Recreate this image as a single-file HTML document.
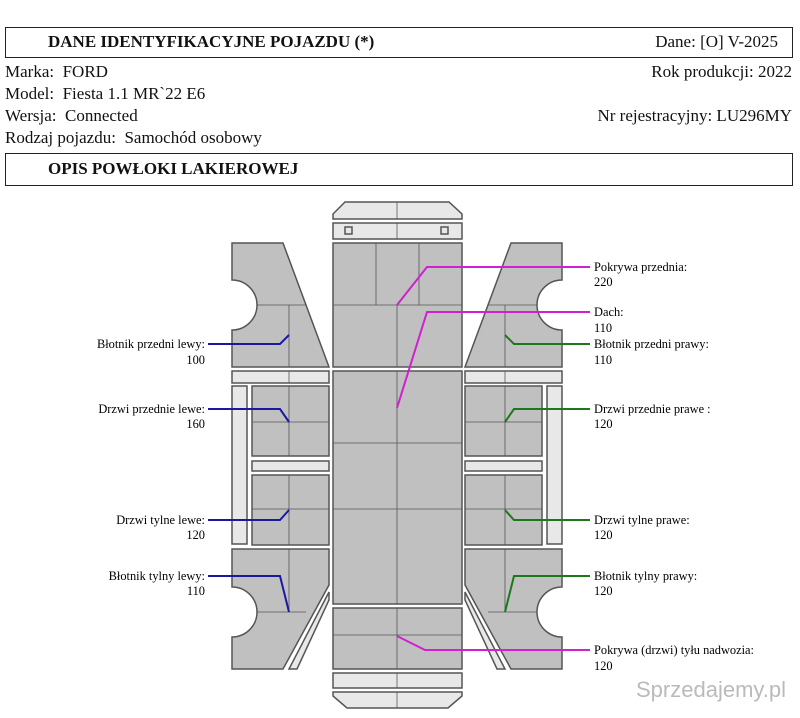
<!DOCTYPE html>
<html><head><meta charset="utf-8"><style>
body{margin:0;background:#fff;width:800px;height:718px;overflow:hidden;position:relative;font-family:"Liberation Serif",serif;color:#111}
.box{position:absolute;left:5px;width:788px;border:1.5px solid #222;box-sizing:border-box}
.t{position:absolute;font-size:17px;white-space:nowrap}
</style></head><body>
<div class="box" style="top:27px;height:31px"></div>
<div class="t" style="left:48px;top:32px;font-weight:bold">DANE IDENTYFIKACYJNE POJAZDU (*)</div>
<div class="t" style="right:22px;top:32px">Dane: [O] V-2025</div>
<div class="t" style="left:5px;top:62px">Marka:&nbsp; FORD</div>
<div class="t" style="right:8px;top:62px">Rok produkcji: 2022</div>
<div class="t" style="left:5px;top:84px">Model:&nbsp; Fiesta 1.1 MR`22 E6</div>
<div class="t" style="left:5px;top:106px">Wersja:&nbsp; Connected</div>
<div class="t" style="right:8px;top:106px">Nr rejestracyjny: LU296MY</div>
<div class="t" style="left:5px;top:128px">Rodzaj pojazdu:&nbsp; Samochód osobowy</div>
<div class="box" style="top:153px;height:33px"></div>
<div class="t" style="left:48px;top:159px;font-weight:bold">OPIS POWŁOKI LAKIEROWEJ</div>
<svg width="800" height="718" style="position:absolute;left:0;top:0" font-family="Liberation Serif, serif" font-size="12.4">
<defs>
<g id="side" stroke="#555" stroke-width="1.5">
<path d="M232,243 H283 L329,367 H232 V330 A25,25 0 0 0 232,280 Z" fill="#c0c0c0"/>
<path d="M257,305 H306 M289,305 V367" stroke-width="0.8" fill="none"/>
<rect x="232" y="371" width="97" height="12" fill="#e8e8e8"/>
<line x1="289" y1="371" x2="289" y2="383" stroke-width="0.8"/>
<rect x="232" y="386" width="15" height="158" fill="#e8e8e8"/>
<rect x="252" y="386" width="77" height="70" fill="#c0c0c0"/>
<path d="M252,422 H329 M289,386 V456" stroke-width="0.8"/>
<rect x="252" y="461" width="77" height="10" fill="#e8e8e8"/>
<rect x="252" y="475" width="77" height="70" fill="#c0c0c0"/>
<path d="M252,509 H329 M289,475 V545" stroke-width="0.8"/>
<path d="M232,549 H329 V585 L283,669 H232 V637 A25,25 0 0 0 232,587 Z" fill="#c0c0c0"/>
<path d="M257,612 H306 M289,549 V612" stroke-width="0.8" fill="none"/>
<path d="M329,592 V600 L297,669 H289 Z" fill="#e8e8e8"/>
</g>
</defs>
<use href="#side"/>
<use href="#side" transform="translate(794,0) scale(-1,1)"/>
<g stroke="#555" stroke-width="1.5">
<path d="M345,202 H449 L462,214 V219 H333 V214 Z" fill="#e8e8e8"/>
<line x1="397" y1="202" x2="397" y2="219" stroke-width="0.8"/>
<rect x="333" y="223" width="129" height="16" fill="#e8e8e8"/>
<line x1="397" y1="223" x2="397" y2="239" stroke-width="0.8"/>
<rect x="345" y="227" width="7" height="7" fill="none"/>
<rect x="441" y="227" width="7" height="7" fill="none"/>
<rect x="333" y="243" width="129" height="124" fill="#c0c0c0"/>
<path d="M333,305 H462 M376,243 V305 M419,243 V305 M397,305 V367" stroke-width="0.8"/>
<rect x="333" y="371" width="129" height="233" fill="#c0c0c0"/>
<path d="M333,443 H462 M333,509 H462 M397,371 V604" stroke-width="0.8"/>
<rect x="333" y="608" width="129" height="61" fill="#c0c0c0"/>
<path d="M333,635 H462 M397,608 V669" stroke-width="0.8"/>
<rect x="333" y="673" width="129" height="15" fill="#e8e8e8"/>
<line x1="397" y1="673" x2="397" y2="688" stroke-width="0.8"/>
<path d="M333,692 H462 V696 L448,708 H347 L333,696 Z" fill="#e8e8e8"/>
<line x1="397" y1="692" x2="397" y2="708" stroke-width="0.8"/>
</g>
<g fill="none" stroke-width="2">
<g stroke="#d020d0"><path d="M397,305 L427,267 H590"/><path d="M397,408 L427,312 H590"/><path d="M397,636 L425,650 H590"/></g>
<g stroke="#1a1aa0"><path d="M289,335 L280,344 H208"/><path d="M289,422 L280,409 H208"/><path d="M289,510 L280,520 H208"/><path d="M289,612 L280,576 H208"/></g>
<g stroke="#1a7a1a"><path d="M505,335 L514,344 H590"/><path d="M505,422 L514,409 H590"/><path d="M505,510 L514,520 H590"/><path d="M505,612 L514,576 H590"/></g>
</g>
<g text-anchor="end">
<text x="205" y="348">Błotnik przedni lewy:</text><text x="205" y="364">100</text>
<text x="205" y="413">Drzwi przednie lewe:</text><text x="205" y="428">160</text>
<text x="205" y="524">Drzwi tylne lewe:</text><text x="205" y="539">120</text>
<text x="205" y="580">Błotnik tylny lewy:</text><text x="205" y="595">110</text>
</g>
<g>
<text x="594" y="271">Pokrywa przednia:</text><text x="594" y="286">220</text>
<text x="594" y="316">Dach:</text><text x="594" y="332">110</text>
<text x="594" y="348">Błotnik przedni prawy:</text><text x="594" y="364">110</text>
<text x="594" y="413">Drzwi przednie prawe :</text><text x="594" y="428">120</text>
<text x="594" y="524">Drzwi tylne prawe:</text><text x="594" y="539">120</text>
<text x="594" y="580">Błotnik tylny prawy:</text><text x="594" y="595">120</text>
<text x="594" y="654">Pokrywa (drzwi) tyłu nadwozia:</text><text x="594" y="670">120</text>
</g>
<text x="636" y="697" font-family="Liberation Sans, sans-serif" font-size="22" fill="#aaa" opacity="0.8">Sprzedajemy.pl</text>
</svg>
</body></html>
